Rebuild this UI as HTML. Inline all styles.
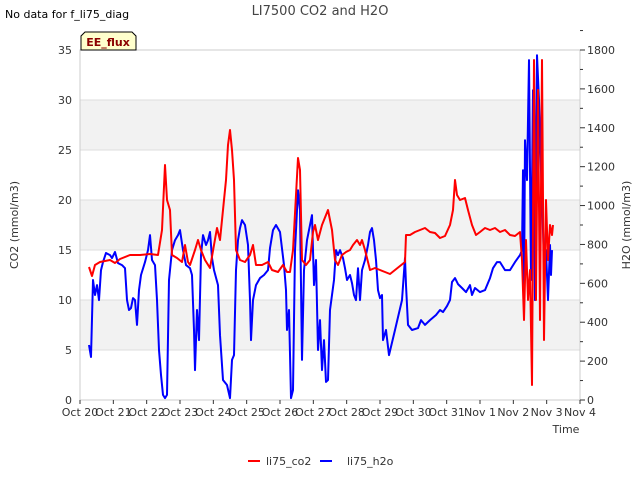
<!DOCTYPE html>
<html><head><meta charset="utf-8"><style>
body{margin:0;background:#fff;font-family:"Liberation Sans",sans-serif}
svg text{font-family:"DejaVu Sans","Liberation Sans",sans-serif}
</style></head><body>
<svg id="chart" width="640" height="480" xmlns="http://www.w3.org/2000/svg">
<rect x="0" y="0" width="640" height="480" fill="#fff"/>
<g id="bands"></g><g id="grid"></g>
<rect x="80" y="50" width="500" height="350" fill="none" stroke="#ccc"/>
<g id="axes"></g>
<g id="series"></g>
<text x="320" y="15" text-anchor="middle" font-size="13" fill="#444">LI7500 CO2 and H2O</text>
<text x="5" y="18" font-size="11" fill="#000">No data for f_li75_diag</text>
<g>
<path d="M81,50 L81,36 L85,32 L132,32 L136,36 L136,50 Z" fill="#ffffcc" stroke="#000"/>
<text x="108" y="46" text-anchor="middle" font-size="11" font-weight="bold" fill="#8b0000">EE_flux</text></g>
<text transform="translate(18,225) rotate(-90)" text-anchor="middle" font-size="11" fill="#333">CO2 (mmol/m3)</text>
<text transform="translate(630,225) rotate(-90)" text-anchor="middle" font-size="11" fill="#333">H2O (mmol/m3)</text>
<text x="566" y="433" text-anchor="middle" font-size="11" fill="#333">Time</text>
<g>
<g><line x1="248" y1="461" x2="260" y2="461" stroke="#f00" stroke-width="2"/><text x="266" y="465" font-size="11" fill="#333">li75_co2</text></g>
<g><line x1="320" y1="461" x2="332" y2="461" stroke="#00f" stroke-width="2"/><text x="347" y="465" font-size="11" fill="#333">li75_h2o</text></g>
</g>
</svg>
<script>
const xTickLabels=["Oct 20","Oct 21","Oct 22","Oct 23","Oct 24","Oct 25","Oct 26","Oct 27","Oct 28","Oct 29","Oct 30","Oct 31","Nov 1","Nov 2","Nov 3","Nov 4"];
const leftTicks=[0,5,10,15,20,25,30,35];
const rightTicks=[0,200,400,600,800,1000,1200,1400,1600,1800];
const co2Days=[0.27,0.36,0.45,0.60,0.90,1.05,1.20,1.50,1.80,2.10,2.34,2.46,2.55,2.61,2.70,2.76,2.91,3.06,3.15,3.24,3.30,3.45,3.54,3.63,3.75,3.90,4.02,4.11,4.20,4.32,4.38,4.44,4.50,4.56,4.62,4.68,4.80,4.95,5.10,5.19,5.28,5.46,5.64,5.76,5.94,6.09,6.21,6.30,6.39,6.48,6.54,6.60,6.66,6.78,6.90,6.99,7.05,7.14,7.26,7.38,7.44,7.50,7.56,7.65,7.74,7.86,7.98,8.10,8.19,8.31,8.40,8.46,8.55,8.70,8.85,9.00,9.15,9.30,9.45,9.60,9.75,9.78,9.90,10.05,10.20,10.35,10.50,10.65,10.80,10.95,11.10,11.19,11.25,11.31,11.40,11.55,11.64,11.76,11.88,12.00,12.15,12.30,12.45,12.60,12.75,12.90,13.05,13.20,13.26,13.32,13.38,13.44,13.50,13.56,13.62,13.68,13.74,13.80,13.86,13.92,13.98,14.04,14.10,14.16,14.19];
const co2Values=[13.3,12.4,13.5,13.8,14.0,13.7,14.1,14.5,14.5,14.6,14.5,17.0,23.5,20.0,19.0,14.5,14.2,13.8,15.5,13.8,13.5,15.0,16.0,15.0,14.0,13.2,15.5,17.2,16.0,20.0,22.0,25.5,27.0,25.0,22.0,15.0,14.0,13.8,14.5,15.5,13.5,13.5,13.8,13.0,12.8,13.5,12.8,12.8,15.0,20.5,24.2,23.0,14.0,13.5,14.0,16.8,17.5,16.0,17.5,18.5,19.0,18.0,17.0,14.0,13.5,14.5,14.8,15.0,15.5,16.0,15.5,16.0,15.0,13.0,13.2,13.0,12.8,12.6,13.0,13.4,13.8,16.5,16.5,16.8,17.0,17.2,16.8,16.7,16.2,16.4,17.5,19.0,22.0,20.5,20.0,20.2,19.0,17.5,16.5,16.8,17.2,17.0,17.2,16.8,17.0,16.5,16.4,16.8,14.0,8.0,16.0,10.0,13.0,1.5,34.0,10.0,31.0,8.0,34.0,6.0,20.0,14.0,17.5,16.5,17.5];
const h2oDays=[0.27,0.33,0.39,0.45,0.51,0.57,0.63,0.69,0.78,0.90,0.96,1.05,1.14,1.26,1.35,1.41,1.47,1.53,1.59,1.65,1.71,1.77,1.83,1.95,2.04,2.10,2.16,2.25,2.31,2.37,2.43,2.49,2.55,2.61,2.67,2.76,2.85,2.94,3.00,3.09,3.18,3.30,3.36,3.42,3.45,3.51,3.57,3.63,3.69,3.78,3.84,3.90,3.96,4.02,4.14,4.20,4.29,4.41,4.50,4.56,4.62,4.68,4.74,4.80,4.86,4.95,5.04,5.10,5.13,5.19,5.28,5.40,5.52,5.64,5.70,5.79,5.88,6.00,6.12,6.18,6.21,6.27,6.33,6.39,6.45,6.54,6.60,6.66,6.72,6.81,6.87,6.96,7.02,7.08,7.14,7.20,7.26,7.32,7.38,7.44,7.50,7.56,7.62,7.68,7.74,7.80,7.89,7.95,8.01,8.10,8.16,8.22,8.28,8.34,8.40,8.46,8.55,8.64,8.70,8.76,8.82,8.88,8.94,9.00,9.06,9.09,9.18,9.27,9.45,9.66,9.75,9.78,9.84,9.96,10.14,10.23,10.35,10.50,10.68,10.80,10.89,11.01,11.10,11.16,11.25,11.34,11.46,11.58,11.70,11.76,11.85,12.00,12.15,12.30,12.39,12.51,12.60,12.75,12.90,13.05,13.20,13.26,13.29,13.32,13.35,13.41,13.47,13.53,13.59,13.65,13.71,13.77,13.83,13.86,13.92,13.98,14.04,14.10,14.13,14.16];
const h2oValues=[283,221,617,540,591,514,668,709,756,745,730,761,704,694,678,514,463,473,524,514,386,565,643,709,771,848,720,694,514,257,129,26,10,26,617,771,822,848,874,771,694,678,643,360,154,463,308,745,848,797,822,864,730,668,591,334,103,77,10,206,231,668,822,884,925,900,797,514,308,514,591,627,643,668,781,874,900,864,694,565,360,463,10,51,771,1079,977,206,668,822,874,951,591,720,257,411,154,308,93,103,463,540,617,771,745,771,730,678,617,643,601,540,514,678,514,668,720,797,864,884,822,720,565,524,540,308,360,231,360,514,730,591,386,360,370,411,386,411,437,463,452,483,514,607,627,596,576,555,591,540,576,555,565,627,678,709,709,668,668,709,745,771,1182,514,1336,1131,1748,617,1593,514,1773,1542,1182,1028,720,771,514,797,643,771];

const NS="http://www.w3.org/2000/svg";
const X0=80,X1=580,Y0=400,Y1=50;
const xs=d=>X0+d*(X1-X0)/15;
const yl=v=>Y0-v*(Y0-Y1)/35;
const yr=v=>Y0-v*(Y0-Y1)/1800;
function mk(tag,attrs,parent){const e=document.createElementNS(NS,tag);for(const k in attrs)e.setAttribute(k,attrs[k]);parent.appendChild(e);return e;}
const bands=document.getElementById('bands'),grid=document.getElementById('grid'),axes=document.getElementById('axes'),series=document.getElementById('series');
[[5,10],[15,20],[25,30]].forEach(b=>{const r=mk('rect',{x:X0,y:yl(b[1]),width:X1-X0,height:yl(b[0])-yl(b[1]),fill:'#f2f2f2'},bands);

});
leftTicks.forEach(v=>{const l=mk('line',{x1:X0,x2:X1,y1:yl(v),y2:yl(v),stroke:'#ddd'},grid);


const t=mk('text',{x:72,y:yl(v)+4,'text-anchor':'end','font-size':11,fill:'#333'},axes);t.textContent=v;

});
rightTicks.forEach(v=>{mk('line',{x1:X1,x2:X1+5,y1:yr(v),y2:yr(v),stroke:'#333'},axes);
mk('line',{x1:X1,x2:X1+3,y1:yr(v+100),y2:yr(v+100),stroke:'#333'},axes);
const t=mk('text',{x:587,y:yr(v)+4,'font-size':11,fill:'#333'},axes);t.textContent=v;

});
xTickLabels.forEach((s,i)=>{mk('line',{x1:xs(i),x2:xs(i),y1:Y0,y2:Y0+4,stroke:'#333'},axes);
const t=mk('text',{x:xs(i),y:416,'text-anchor':'middle','font-size':11,fill:'#333'},axes);t.textContent=s;

});
function line(days,vals,fy,color,name){const p=mk('polyline',{points:days.map((d,i)=>xs(d).toFixed(1)+','+fy(vals[i]).toFixed(1)).join(' '),fill:'none',stroke:color,'stroke-width':2,'stroke-linejoin':'round'},series);

}
line(h2oDays,h2oValues,yr,'#0000ff','li75-h2o-line');
line(co2Days,co2Values,yl,'#ff0000','li75-co2-line');
</script>
</body></html>
